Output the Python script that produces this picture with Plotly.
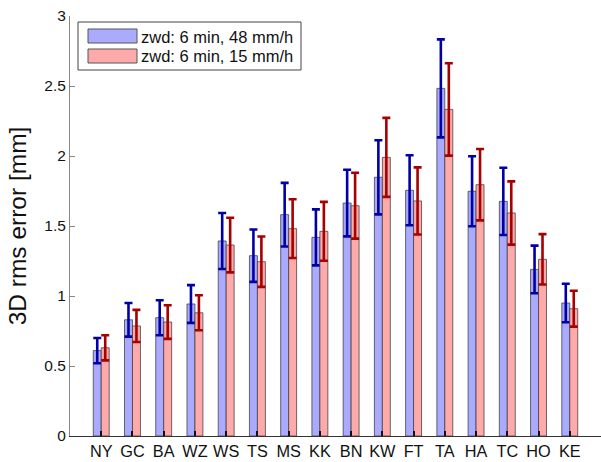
import plotly.graph_objects as go

# Stations and 3D rms errors (mm) for the two zenith wet delay settings
stations = ["NY", "GC", "BA", "WZ", "WS", "TS", "MS", "KK", "BN", "KW",
            "FT", "TA", "HA", "TC", "HO", "KE"]

rms_48 = [0.61, 0.83, 0.845, 0.943, 1.393, 1.288, 1.581, 1.419, 1.664, 1.848,
          1.755, 2.483, 1.748, 1.676, 1.19, 0.95]
err_48 = [0.09, 0.12, 0.125, 0.135, 0.20, 0.187, 0.227, 0.20, 0.238, 0.265,
          0.25, 0.35, 0.25, 0.24, 0.17, 0.137]

rms_15 = [0.63, 0.786, 0.814, 0.88, 1.364, 1.245, 1.481, 1.462, 1.645, 1.99,
          1.679, 2.333, 1.795, 1.593, 1.262, 0.909]
err_15 = [0.09, 0.115, 0.12, 0.125, 0.195, 0.18, 0.21, 0.21, 0.235, 0.282,
          0.24, 0.33, 0.255, 0.226, 0.18, 0.128]

series_names = ["zwd: 6 min, 48 mm/h", "zwd: 6 min, 15 mm/h"]
fill_colors = ["#aaaaff", "#ffaaaa"]
err_colors = ["#0000a6", "#a60000"]

FONT = "Liberation Sans, Arial, Helvetica, sans-serif"

fig = go.Figure()
for name, vals, errs, fc, ec in zip(series_names, [rms_48, rms_15],
                                    [err_48, err_15], fill_colors, err_colors):
    fig.add_trace(go.Bar(
        x=stations, y=vals, name=name,
        marker=dict(color=fc, line=dict(color="rgba(60,60,60,0.75)", width=1)),
        error_y=dict(type="data", array=errs, visible=True,
                     color=ec, thickness=2.6, width=4),
        showlegend=False,
    ))

# Legend drawn as a framed box with wide colour swatches (pixel positions
# converted to plot-area fractions)
PLOT_L, PLOT_W = 70.0, 531.0
PLOT_B, PLOT_H = 436.0, 420.0


def fx(xp):
    return (xp - PLOT_L) / PLOT_W


def fy(yp):
    return (PLOT_B - yp) / PLOT_H


shapes = [dict(type="rect", xref="paper", yref="paper",
               x0=fx(78), x1=fx(301), y0=fy(70), y1=fy(22),
               line=dict(color="#444444", width=1), fillcolor="white", layer="above")]
annotations = []
for i, (name, fc) in enumerate(zip(series_names, fill_colors)):
    top = 29 + i * 20
    shapes.append(dict(type="rect", xref="paper", yref="paper",
                       x0=fx(88), x1=fx(137), y0=fy(top + 14), y1=fy(top),
                       line=dict(color="#555555", width=1), fillcolor=fc, layer="above"))
    annotations.append(dict(xref="paper", yref="paper", x=fx(139), y=fy(top + 7.5),
                            text=name, showarrow=False, xanchor="left", yanchor="middle",
                            font=dict(family=FONT, size=16.5, color="#111111")))

fig.update_layout(
    width=601, height=462,
    margin=dict(l=70, r=0, t=16, b=26),
    paper_bgcolor="white", plot_bgcolor="white",
    barmode="group", bargap=0.49, bargroupgap=0.0,
    font=dict(family=FONT, size=15, color="#111111"),
    shapes=shapes, annotations=annotations,
    xaxis=dict(range=[-1, 16], showgrid=False, zeroline=False,
               showline=True, linecolor="#333333", linewidth=1,
               ticks="inside", ticklen=5, tickcolor="#111111", tickwidth=1.5,
               tickfont=dict(family=FONT, size=16.3, color="#111111")),
    yaxis=dict(range=[0, 3], tickvals=[0, 0.5, 1, 1.5, 2, 2.5, 3],
               ticktext=["0", "0.5", "1", "1.5", "2", "2.5", "3"],
               showgrid=False, zeroline=False,
               showline=True, linecolor="#888888", linewidth=1,
               ticks="inside", ticklen=5, tickcolor="#888888",
               tickfont=dict(family=FONT, size=15.5, color="#111111"),
               title=dict(text="3D rms error [mm]", standoff=10,
                          font=dict(family=FONT, size=24.5, color="#111111"))),
)

fig.write_html("out.html")
